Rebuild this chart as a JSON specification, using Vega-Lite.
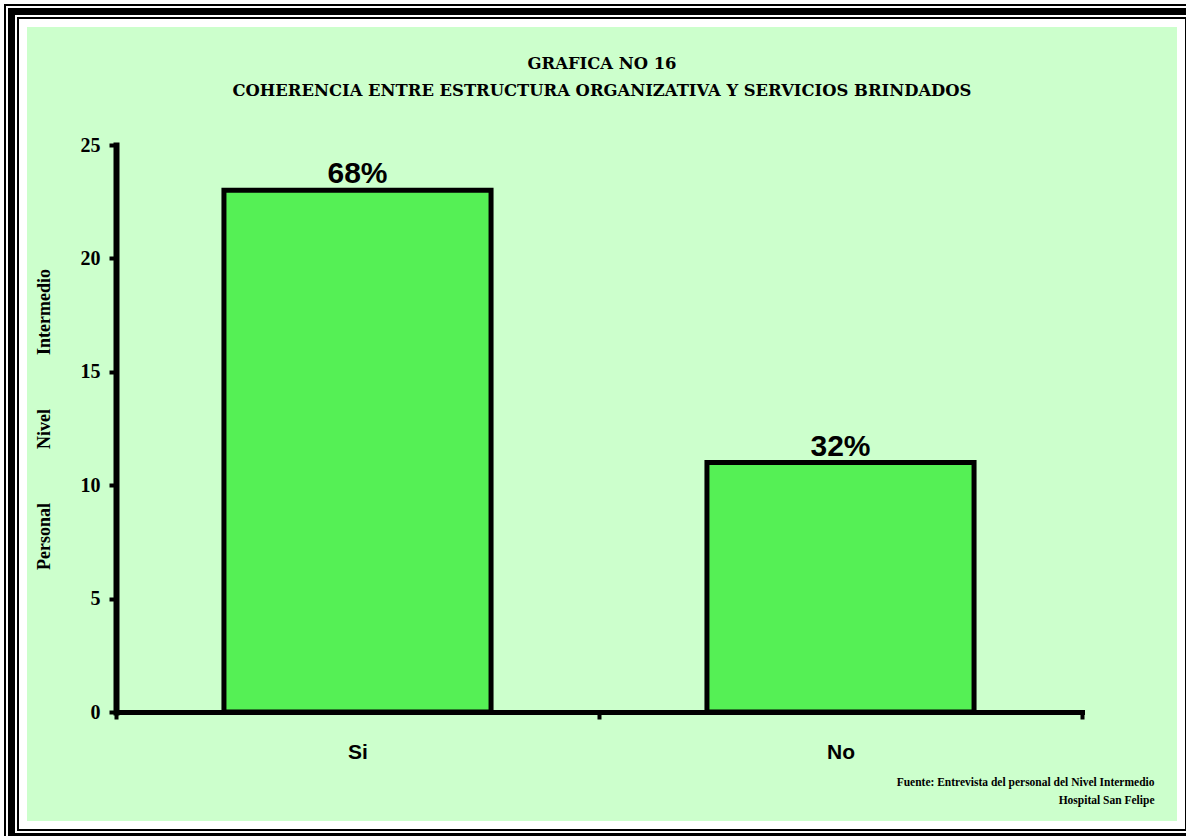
{
  "$schema": "https://vega.github.io/schema/vega-lite/v6.json",
  "width": 1150,
  "height": 794,
  "autosize": {"type": "none"},
  "padding": {"left": 27, "top": 27, "right": 9, "bottom": 15},
  "background": "white",
  "config": {"view": {"stroke": null}},
  "title": {
    "text": ["GRAFICA NO 16", "COHERENCIA ENTRE ESTRUCTURA ORGANIZATIVA Y SERVICIOS BRINDADOS"],
    "font": "DejaVu Serif",
    "fontWeight": "bold",
    "fontSize": 16.4,
    "color": "black",
    "lineHeight": 27,
    "anchor": "middle",
    "frame": "group",
    "offset": -95,
    "zindex": 1
  },
  "datasets": {
    "respuestas": [
      {"respuesta": "Si", "personal": 23, "porcentaje": "68%"},
      {"respuesta": "No", "personal": 11, "porcentaje": "32%"}
    ],
    "marco": [{"parte": "marco"}]
  },
  "layer": [
    {"data": {"name": "marco"}, "mark": {"type": "rect", "fill": null, "stroke": "black", "strokeWidth": 46}, "encoding": {}},
    {"data": {"name": "marco"}, "mark": {"type": "rect", "fill": null, "stroke": "white", "strokeWidth": 42}, "encoding": {}},
    {"data": {"name": "marco"}, "mark": {"type": "rect", "fill": null, "stroke": "black", "strokeWidth": 38}, "encoding": {}},
    {"data": {"name": "marco"}, "mark": {"type": "rect", "fill": null, "stroke": "white", "strokeWidth": 24}, "encoding": {}},
    {"data": {"name": "marco"}, "mark": {"type": "rect", "fill": null, "stroke": "black", "strokeWidth": 20}, "encoding": {}},
    {"data": {"name": "marco"}, "mark": {"type": "rect", "fill": null, "stroke": "white", "strokeWidth": 16}, "encoding": {}},
    {"data": {"name": "marco"}, "mark": {"type": "rect", "fill": "#ccffcc", "stroke": null}, "encoding": {}},
    {
      "data": {"name": "respuestas"},
      "mark": {"type": "bar", "fill": "#55f055", "stroke": "black", "strokeWidth": 5, "width": {"band": 0.553}},
      "encoding": {
        "x": {
          "field": "respuesta",
          "type": "nominal",
          "sort": ["Si", "No"],
          "scale": {"range": [89, 1055], "paddingInner": 0, "paddingOuter": 0},
          "axis": {
            "orient": "bottom",
            "offset": -109,
            "tickBand": "extent",
            "domainColor": "black",
            "domainWidth": 5,
            "domainCap": "square",
            "tickColor": "black",
            "tickWidth": 4,
            "tickSize": 7,
            "labelFont": "Liberation Sans",
            "labelFontWeight": "bold",
            "labelFontSize": 21,
            "labelColor": "black",
            "labelPadding": 22,
            "labelAngle": 0,
            "labelBaseline": "top",
            "title": ["Fuente: Entrevista del personal del Nivel Intermedio", "Hospital San Felipe"],
            "titleFont": "Liberation Serif",
            "titleFontWeight": "bold",
            "titleFontSize": 11.5,
            "titleColor": "black",
            "titleAlign": "right",
            "titleX": 1127,
            "titleY": 64,
            "titleBaseline": "top",
            "titleLineHeight": 18,
            "zindex": 1
          }
        },
        "y": {
          "field": "personal",
          "type": "quantitative",
          "scale": {"domain": [0, 25], "range": [685, 118], "nice": false},
          "axis": {
            "orient": "left",
            "offset": -89,
            "values": [0, 5, 10, 15, 20, 25],
            "grid": false,
            "domainColor": "black",
            "domainWidth": 6,
            "domainCap": "square",
            "tickColor": "black",
            "tickWidth": 4,
            "tickSize": 7,
            "labelFont": "Liberation Serif",
            "labelFontWeight": "bold",
            "labelFontSize": 20,
            "labelColor": "black",
            "labelPadding": 9,
            "title": "Personal\u00a0\u00a0\u00a0\u00a0\u00a0\u00a0\u00a0\u00a0\u00a0\u00a0\u00a0\u00a0Nivel\u00a0\u00a0\u00a0\u00a0\u00a0\u00a0\u00a0\u00a0\u00a0\u00a0\u00a0\u00a0Intermedio",
            "titleFont": "Liberation Serif",
            "titleFontWeight": "bold",
            "titleFontSize": 18,
            "titleColor": "black",
            "titleAngle": -90,
            "titleAlign": "center",
            "titleBaseline": "middle",
            "titleX": -72,
            "titleY": 392,
            "zindex": 1
          }
        }
      }
    },
    {
      "data": {"name": "respuestas"},
      "mark": {"type": "text", "font": "Liberation Sans", "fontWeight": "bold", "fontSize": 30, "color": "black", "align": "center", "baseline": "alphabetic", "dy": -7},
      "encoding": {
        "x": {"field": "respuesta", "type": "nominal", "sort": ["Si", "No"]},
        "y": {"field": "personal", "type": "quantitative"},
        "text": {"field": "porcentaje"}
      }
    }
  ]
}
